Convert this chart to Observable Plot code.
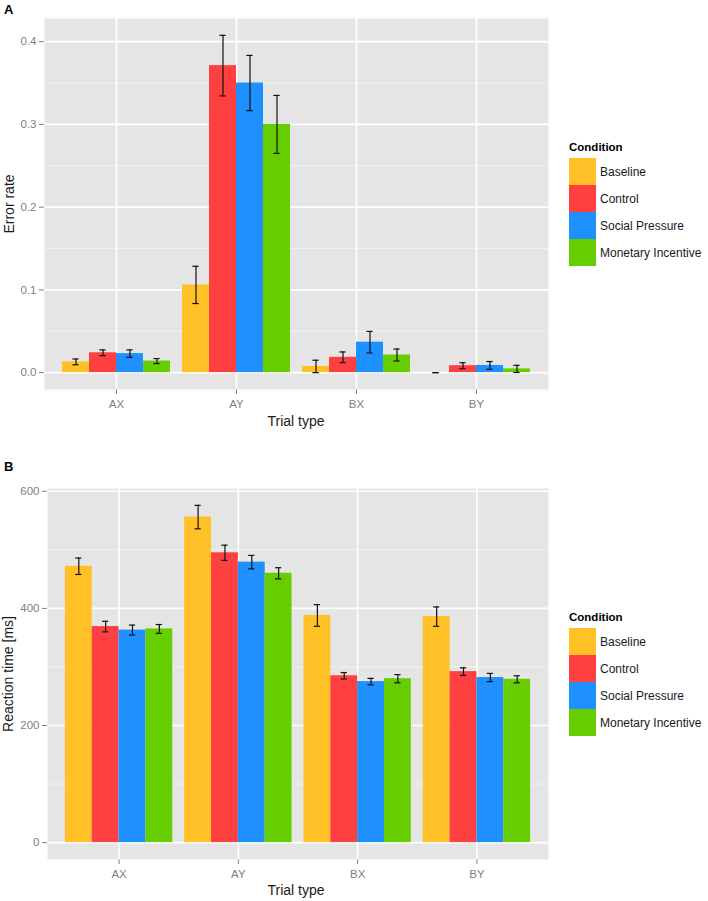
<!DOCTYPE html>
<html>
<head>
<meta charset="utf-8">
<script src="https://cdn.jsdelivr.net/npm/d3@7"></script>
<script src="https://cdn.jsdelivr.net/npm/@observablehq/plot@0.6"></script>
<style>
  html, body { margin: 0; padding: 0; background: #fff; }
  #root { position: relative; width: 708px; height: 901px; overflow: hidden;
          font-family: "Liberation Sans", Arial, sans-serif; }
  .abs { position: absolute; white-space: nowrap; line-height: 1; }
  .panel { position: absolute; left: 0; }
  .ttl { font-size: 14px; color: #1a1a1a; }
  .tag { font-size: 13px; font-weight: bold; color: #000; }
  .legtitle { font-size: 11.5px; font-weight: bold; color: #000; }
  .leglab { font-size: 12px; color: #1a1a1a; }
</style>
</head>
<body>
<div id="root"></div>
<script>
// ---- data ----
const trials = ["AX", "AY", "BX", "BY"];
const conditions = ["Baseline", "Control", "Social Pressure", "Monetary Incentive"];
const colors = ["#FFC125", "#FF4040", "#1E90FF", "#66CD00"];

// Panel A: error rate (mean and standard error per trial type)
const errBaseline   = [0.013, 0.106, 0.0075, 0.0];
const errControl    = [0.024, 0.371, 0.0185, 0.0084];
const errSocial     = [0.023, 0.350, 0.0368, 0.0087];
const errMonetary   = [0.014, 0.300, 0.0213, 0.0045];
const errBaselineSE = [0.0035, 0.0225, 0.0075, 0.0];
const errControlSE  = [0.0035, 0.0366, 0.0065, 0.0036];
const errSocialSE   = [0.0045, 0.0334, 0.0130, 0.0047];
const errMonetarySE = [0.0030, 0.0350, 0.0072, 0.0043];

// Panel B: reaction time [ms]
const rtBaseline   = [472, 556, 388, 386];
const rtControl    = [369, 495, 285, 292];
const rtSocial     = [363, 479, 275, 282];
const rtMonetary   = [365, 460, 280, 279];
const rtBaselineSE = [14, 20, 18.5, 16.5];
const rtControlSE  = [9, 13, 5.5, 6.5];
const rtSocialSE   = [8.5, 11.5, 5.5, 7];
const rtMonetarySE = [7.5, 9.5, 7, 6];

// tick values
const ticksA = [0, 0.1, 0.2, 0.3, 0.4];
const minorA = [0.05, 0.15, 0.25, 0.35];
const ticksB = [0, 200, 400, 600];
const minorB = [100, 300, 500];

// ---- build tidy rows (dodged positions like ggplot's position_dodge) ----
const dodge = 0.9 / conditions.length;
function rows(means, ses) {
  const out = [];
  means.forEach((m, ci) => m.forEach((v, ti) => {
    const c = ti + 1 + (ci - (conditions.length - 1) / 2) * dodge;
    out.push({trial: trials[ti], cond: conditions[ci], value: v, se: ses[ci][ti],
              lo: v - ses[ci][ti], hi: v + ses[ci][ti],
              x1: c - dodge / 2, x2: c + dodge / 2, xc: c, c1: c - 0.026, c2: c + 0.026});
  }));
  return out;
}
const dataA = rows([errBaseline, errControl, errSocial, errMonetary],
                   [errBaselineSE, errControlSE, errSocialSE, errMonetarySE]);
const dataB = rows([rtBaseline, rtControl, rtSocial, rtMonetary],
                   [rtBaselineSE, rtControlSE, rtSocialSE, rtMonetarySE]);

function expand(data) {
  const hi = d3.max(data, d => d.hi), lo = Math.min(0, d3.min(data, d => d.lo));
  const pad = (hi - lo) * 0.05;
  return [lo - pad, hi + pad];
}

const FONT = '"Liberation Sans", Arial, sans-serif';
function panel(data, opts) {
  return Plot.plot({
    width: 708, height: opts.height,
    marginLeft: opts.ml, marginRight: 160, marginTop: opts.mt, marginBottom: opts.mb,
    style: {fontFamily: FONT, fontSize: "11.5px", color: "#7F7F7F", background: "transparent"},
    x: {domain: [0.4, 4.6], ticks: [1, 2, 3, 4], tickFormat: d => trials[d - 1],
        tickSize: 5, tickPadding: 5, label: null},
    y: {domain: expand(data), ticks: opts.ticks, tickFormat: opts.fmt,
        tickSize: 5, tickPadding: 3, label: null},
    color: {domain: conditions, range: colors},
    marks: [
      Plot.frame({fill: "#E5E5E5", stroke: "none"}),
      Plot.ruleY(opts.minor, {stroke: "#F2F2F2", strokeWidth: 1}),
      Plot.ruleY(opts.ticks, {stroke: "#FFFFFF", strokeWidth: 1.6}),
      Plot.ruleX([1, 2, 3, 4], {stroke: "#FFFFFF", strokeWidth: 1.6}),
      Plot.rectY(data, {x1: "x1", x2: "x2", y: "value", fill: "cond"}),
      Plot.ruleX(data, {x: "xc", y1: "lo", y2: "hi", stroke: "#111", strokeWidth: 1.2}),
      Plot.ruleY(data, {y: "hi", x1: "c1", x2: "c2", stroke: "#111", strokeWidth: 1.2}),
      Plot.ruleY(data, {y: "lo", x1: "c1", x2: "c2", stroke: "#111", strokeWidth: 1.2})
    ]
  });
}

const root = document.getElementById("root");
function addText(txt, cls, left, top, extra) {
  const d = document.createElement("div");
  d.className = "abs " + cls;
  d.textContent = txt;
  d.style.left = left + "px";
  d.style.top = top + "px";
  if (extra) Object.assign(d.style, extra);
  root.appendChild(d);
  return d;
}
function addPlot(svg, top) {
  const w = document.createElement("div");
  w.className = "panel";
  w.style.top = top + "px";
  w.appendChild(svg);
  root.appendChild(w);
}
function legend(titleTop, keysTop) {
  addText("Condition", "legtitle", 569, titleTop);
  conditions.forEach((c, i) => {
    const k = document.createElement("div");
    k.style.cssText = `position:absolute;left:569px;top:${keysTop + i * 27}px;width:27px;height:27px;background:${colors[i]}`;
    root.appendChild(k);
    addText(c, "leglab", 600, keysTop + i * 27 + 13.5, {transform: "translateY(-50%)"});
  });
}

// Panel A
addPlot(panel(dataA, {height: 440, ml: 44, mt: 18, mb: 51, ticks: ticksA, minor: minorA,
                      fmt: d3.format(".1f")}), 0);
addText("A", "tag", 4, 3);
addText("Error rate", "ttl", 9, 204, {transform: "translate(-50%,-50%) rotate(-90deg)"});
addText("Trial type", "ttl", 296, 414, {transform: "translateX(-50%)"});
legend(142, 158);

// Panel B
addPlot(panel(dataB, {height: 461, ml: 47, mt: 48, mb: 42, ticks: ticksB, minor: minorB,
                      fmt: d3.format("d")}), 440);
addText("B", "tag", 4, 460);
addText("Reaction time [ms]", "ttl", 8, 674, {transform: "translate(-50%,-50%) rotate(-90deg)"});
addText("Trial type", "ttl", 296, 883, {transform: "translateX(-50%)"});
legend(612, 628);
</script>
</body>
</html>
